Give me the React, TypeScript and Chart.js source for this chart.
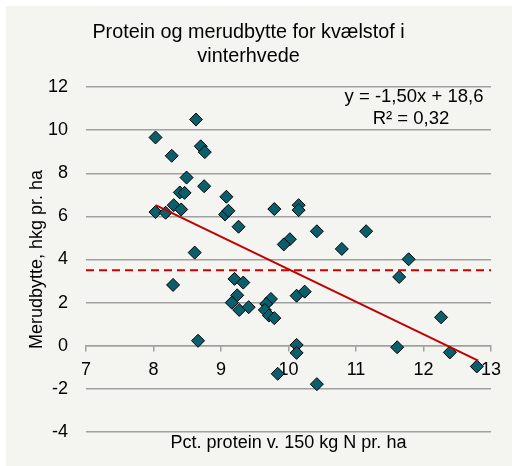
import React, { useEffect, useRef } from 'react';
import { Chart, registerables } from 'chart.js';

Chart.register(...registerables);

// Data
const protein = [
  8.03, 8.63, 8.27, 8.70, 8.76, 8.49, 8.75, 8.39, 8.46, 8.03,
  8.18, 8.30, 8.41, 9.08, 9.06, 9.11, 9.26, 9.79, 10.15, 10.15,
  10.42, 11.15, 10.79, 10.02, 9.93, 8.61, 11.78, 11.64, 9.20, 9.33,
  9.24, 9.16, 9.27, 9.41, 9.74, 9.67, 9.65, 9.71, 9.79, 10.12,
  10.24, 12.26, 11.61, 10.12, 10.12, 12.39, 12.79, 9.84, 10.42, 8.29,
  8.66,
];
const merudbytte = [
  9.66, 10.49, 8.81, 9.25, 8.98, 7.80, 7.40, 7.11, 7.09, 6.20,
  6.17, 6.52, 6.32, 6.91, 6.09, 6.26, 5.52, 6.34, 6.52, 6.29,
  5.31, 5.31, 4.49, 4.94, 4.70, 4.32, 4.01, 3.19, 3.10, 2.93,
  2.34, 2.00, 1.66, 1.79, 2.17, 1.94, 1.66, 1.40, 1.28, 2.32,
  2.51, 1.32, -0.07, 0.04, -0.33, -0.31, -0.96, -1.30, -1.78, 2.82,
  0.23,
];
const trendX = [8.03, 12.81];
const trendY = [6.52, -0.69];
const refX = [7, 13];
const refY = [3.5, 3.5];

const xMin = 7;
const xMax = 13;
const yMin = -4;
const yMax = 12;
const yStep = 2;

const titleLines = ['Protein og merudbytte for kvælstof i', 'vinterhvede'];
const yTitle = 'Merudbytte, hkg pr. ha';
const xTitle = 'Pct. protein v. 150 kg N pr. ha';
const equationLines = ['y = -1,50x + 18,6', 'R² = 0,32'];

const FONT = '"Liberation Sans", Arial, sans-serif';

const equationPlugin = {
  id: 'equationLabel',
  afterDatasetsDraw(chart: any) {
    const { ctx, chartArea } = chart;
    ctx.save();
    ctx.font = `18.5px ${FONT}`;
    ctx.fillStyle = '#000';
    ctx.textAlign = 'center';
    ctx.textBaseline = 'middle';
    const cx = chartArea.right - 77;
    ctx.fillText(equationLines[0], cx, chartArea.top + 9.5);
    ctx.fillText(equationLines[1], cx - 3, chartArea.top + 31.5);
    ctx.restore();
  },
};

export default function App() {
  const canvasRef = useRef<HTMLCanvasElement>(null);

  useEffect(() => {
    if (!canvasRef.current) return;
    Chart.defaults.font.family = FONT;
    const points = protein.map((x, i) => ({ x, y: merudbytte[i] }));
    const trend = trendX.map((x, i) => ({ x, y: trendY[i] }));
    const ref = refX.map((x, i) => ({ x, y: refY[i] }));

    const chart = new Chart(canvasRef.current, {
      type: 'scatter',
      data: {
        datasets: [
          {
            type: 'line',
            label: 'trend',
            data: trend,
            borderColor: '#c00000',
            borderWidth: 2,
            pointRadius: 0,
            showLine: true,
            fill: false,
            order: 1,
          },
          {
            type: 'line',
            label: 'ref',
            data: ref,
            borderColor: '#cc0000',
            borderWidth: 2,
            borderDash: [8, 5],
            pointRadius: 0,
            showLine: true,
            fill: false,
            order: 1,
          },
          {
            label: 'data',
            data: points,
            pointStyle: 'rectRot',
            pointRadius: 6.5,
            pointHoverRadius: 6.5,
            backgroundColor: '#0b5f6c',
            borderColor: '#000000',
            borderWidth: 1,
            order: 2,
          },
        ],
      },
      options: {
        animation: false,
        responsive: true,
        maintainAspectRatio: false,
        layout: { padding: { left: 0, right: 21, top: 0, bottom: 12.2 } },
        plugins: {
          legend: { display: false },
          tooltip: { enabled: false },
          title: {
            display: true,
            text: titleLines,
            color: '#000',
            font: { size: 19.8, weight: 'normal', lineHeight: 24 / 19.8 },
            padding: { top: 15, bottom: 18 },
          },
        },
        scales: {
          x: {
            type: 'linear',
            min: xMin,
            max: xMax,
            position: { y: 0 } as any,
            ticks: { stepSize: 1, color: '#000', font: { size: 18 }, padding: 8.2 },
            grid: {
              display: true,
              drawOnChartArea: false,
              drawTicks: true,
              tickLength: 5,
              color: '#a0a0a0',
              lineWidth: 1.5,
            },
            border: { display: true, color: '#a0a0a0', width: 1.5 },
          },
          x2: {
            type: 'linear',
            position: 'bottom',
            min: xMin,
            max: xMax,
            ticks: { display: false },
            grid: { display: false, drawTicks: false },
            border: { display: false },
            title: {
              display: true,
              text: xTitle,
              color: '#000',
              font: { size: 18 },
              padding: { top: 0.2, bottom: 0 },
            },
          },
          y: {
            type: 'linear',
            min: yMin,
            max: yMax,
            ticks: { stepSize: yStep, color: '#000', font: { size: 18 }, padding: 18 },
            grid: { color: '#a0a0a0', lineWidth: 1.5, drawTicks: false },
            border: { display: false },
            title: {
              display: true,
              text: yTitle,
              color: '#000',
              font: { size: 18 },
              padding: { top: 20.2, bottom: 0 },
            },
            afterFit(scale: any) {
              scale.width = 80;
            },
          },
        },
      },
      plugins: [equationPlugin],
    } as any);

    return () => chart.destroy();
  }, []);

  return (
    <div style={{ position: 'fixed', left: 0, top: 0, width: 512, height: 466, background: '#ffffff' }}>
      <div style={{ position: 'absolute', left: 6, top: 6, width: 506, height: 460, background: '#f4f4f0' }}>
        <canvas ref={canvasRef} />
      </div>
    </div>
  );
}
